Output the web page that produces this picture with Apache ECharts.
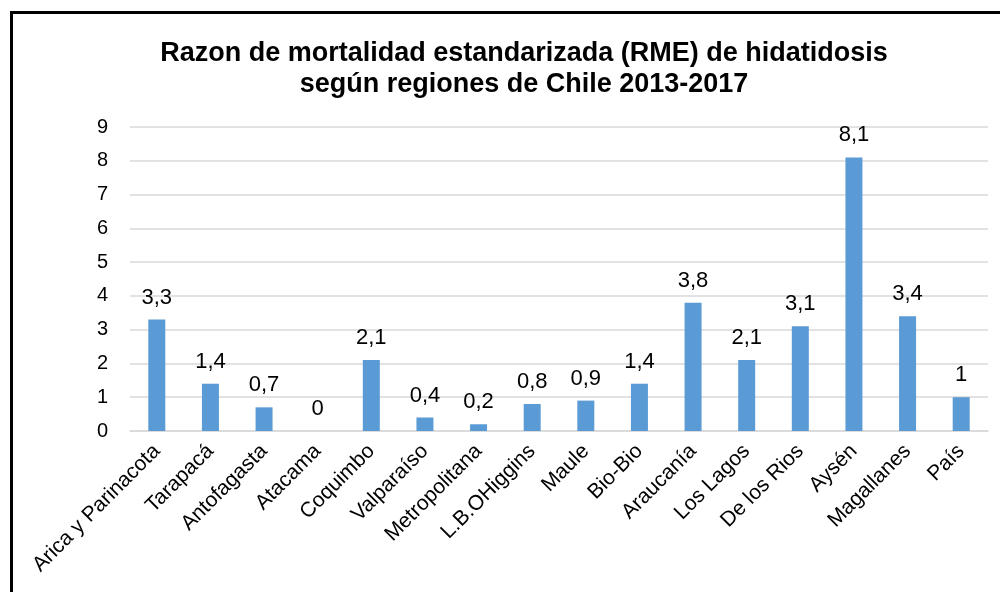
<!DOCTYPE html>
<html>
<head>
<meta charset="utf-8">
<script src="https://cdn.jsdelivr.net/npm/echarts@6/dist/echarts.min.js"></script>
<style>
  html, body { margin: 0; padding: 0; background: #fff; }
  #chart { width: 1000px; height: 592px; }
</style>
</head>
<body>
<div id="chart"></div>
<script>
const regions = [
  'Arica y Parinacota', 'Tarapacá', 'Antofagasta', 'Atacama', 'Coquimbo',
  'Valparaíso', 'Metropolitana', 'L.B.OHiggins', 'Maule', 'Bio-Bio',
  'Araucanía', 'Los Lagos', 'De los Rios', 'Aysén', 'Magallanes', 'País'
];
const rme = [3.3, 1.4, 0.7, 0, 2.1, 0.4, 0.2, 0.8, 0.9, 1.4, 3.8, 2.1, 3.1, 8.1, 3.4, 1];
const yTicks = [0, 1, 2, 3, 4, 5, 6, 7, 8, 9];

const font = '"Liberation Sans", Arial, sans-serif';
const chart = echarts.init(document.getElementById('chart'));

chart.setOption({
  animation: false,
  title: {
    text: 'Razon de mortalidad estandarizada (RME) de hidatidosis\nsegún regiones de Chile 2013-2017',
    left: 519,
    top: 33,
    textAlign: 'center',
    textStyle: { fontFamily: font, fontSize: 27, fontWeight: 'bold', color: '#000', lineHeight: 31 }
  },
  graphic: [{
    type: 'rect',
    shape: { x: 11.5, y: 12.5, width: 1100, height: 700 },
    style: { fill: 'none', stroke: '#000', lineWidth: 3 }
  }],
  grid: { left: 130, right: 12, top: 127, bottom: 161 },
  xAxis: {
    type: 'category',
    data: regions,
    axisTick: { show: false },
    axisLine: { lineStyle: { color: '#d9d9d9', width: 1.5 } },
    axisLabel: {
      interval: 0,
      rotate: 45,
      margin: 17,
      fontFamily: font,
      fontSize: 21,
      color: '#000'
    }
  },
  yAxis: {
    type: 'value',
    min: yTicks[0],
    max: yTicks[yTicks.length - 1],
    interval: 1,
    axisLine: { show: false },
    axisTick: { show: false },
    splitLine: { lineStyle: { color: '#d9d9d9', width: 1.5 } },
    axisLabel: {
      margin: 22,
      fontFamily: font,
      fontSize: 20,
      color: '#000',
      formatter: (v) => String(v)
    }
  },
  series: [{
    type: 'bar',
    data: rme,
    barWidth: 17,
    itemStyle: { color: '#5b9bd5' },
    label: {
      show: true,
      position: 'top',
      distance: 11,
      fontFamily: font,
      fontSize: 22,
      color: '#000',
      formatter: (p) => String(p.value).replace('.', ',')
    }
  }]
});
</script>
</body>
</html>
